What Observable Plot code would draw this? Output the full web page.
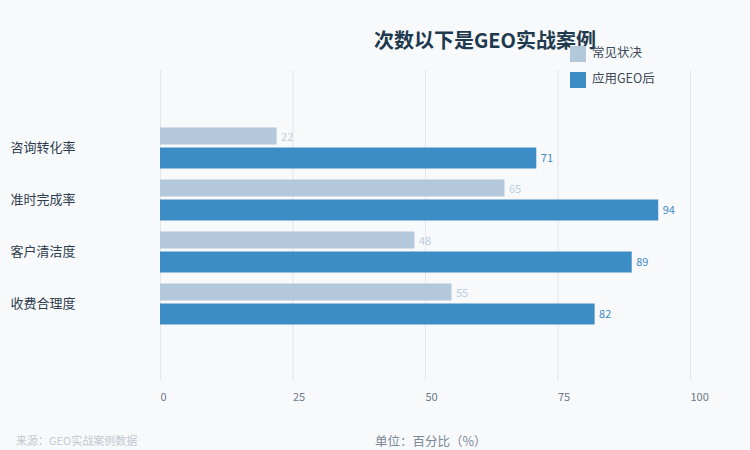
<!DOCTYPE html>
<html>
<head>
<meta charset="utf-8">
<script src="https://cdn.jsdelivr.net/npm/d3@7"></script>
<script src="https://cdn.jsdelivr.net/npm/@observablehq/plot@0.6"></script>
<style>
  html, body { margin: 0; padding: 0; background: #f7f9fb; }
  #wrap { position: relative; width: 750px; height: 450px; background: #f7f9fb; overflow: hidden;
          font-family: "Noto Sans CJK SC", "Noto Sans", sans-serif; }
  #chart { position: absolute; left: 0; top: 0; }
  .title { position: absolute; left: 0; width: 970px; top: 27px; text-align: center; line-height: 26px;
           font-size: 20px; font-weight: bold; color: #1f3a4f; white-space: nowrap; }
  .legend { position: absolute; left: 570px; top: 46px; font-size: 12.5px; color: #3d4a5a; }
  .legend .item { display: flex; align-items: center; height: 16px; line-height: 16px; margin-bottom: 10px; }
  .legend .item span { position: relative; top: -2px; }
  .legend .sw { width: 16px; height: 16px; margin-right: 6px; }
  .src { position: absolute; left: 16px; top: 432px; font-size: 11px; color: #c3c9d1; }
  .unit { position: absolute; left: 375px; top: 431px; font-size: 12.5px; color: #7a8796; }
</style>
</head>
<body>
<div id="wrap">
  <div id="chart"></div>
  <div class="title">次数以下是GEO实战案例</div>
  <div class="legend" id="legend"></div>
  <div class="src">来源：GEO实战案例数据</div>
  <div class="unit">单位：百分比（%）</div>
</div>
<script>
const categories = ["咨询转化率", "准时完成率", "客户清洁度", "收费合理度"];
const seriesNames = ["常见状决", "应用GEO后"];
const beforeValues = [22, 65, 48, 55];
const afterValues = [71, 94, 89, 82];
const xTicks = [0, 25, 50, 75, 100];
const colors = ["#b3c8db", "#3c8cc6"];
const labelColors = ["#bccfe0", "#3c8cc6"];

const before = categories.map((c, i) => ({category: c, value: beforeValues[i]}));
const after = categories.map((c, i) => ({category: c, value: afterValues[i]}));

const chart = Plot.plot({
  width: 750,
  height: 450,
  marginTop: 70,
  marginBottom: 70,
  marginLeft: 160,
  marginRight: 60,
  style: {background: "transparent", fontFamily: "'Noto Sans CJK SC', 'Noto Sans', sans-serif"},
  x: {domain: [0, 100], axis: null},
  y: {domain: categories, range: [121.5, 329.5], padding: 0, axis: null},
  marks: [
    Plot.ruleX(xTicks, {stroke: "#e3e6ea", strokeWidth: 1}),
    Plot.text(xTicks, {x: d => d, frameAnchor: "bottom", dy: 20, textAnchor: "start", text: d => String(d), fill: "#6b7a8b", fontSize: 11}),
    Plot.barX(before, {x: "value", y: "category", fill: colors[0], insetTop: 5.5, insetBottom: 29.5}),
    Plot.barX(after, {x: "value", y: "category", fill: colors[1], insetTop: 25.5, insetBottom: 5.5}),
    Plot.text(before, {x: "value", y: "category", text: d => String(d.value), dx: 4, dy: -11.5, textAnchor: "start", fill: labelColors[0], fontSize: 11}),
    Plot.text(after, {x: "value", y: "category", text: d => String(d.value), dx: 4, dy: 9.5, textAnchor: "start", fill: labelColors[1], fontSize: 11}),
    Plot.text(categories, {y: d => d, frameAnchor: "left", dx: -150, dy: -1, textAnchor: "start", text: d => d, fill: "#2f3d4f", fontSize: 13})
  ]
});
document.getElementById("chart").appendChild(chart);

const legend = document.getElementById("legend");
seriesNames.forEach((name, i) => {
  const item = document.createElement("div");
  item.className = "item";
  const sw = document.createElement("div");
  sw.className = "sw";
  sw.style.background = colors[i];
  const t = document.createElement("span");
  t.textContent = name;
  item.appendChild(sw);
  item.appendChild(t);
  legend.appendChild(item);
});
</script>
</body>
</html>
